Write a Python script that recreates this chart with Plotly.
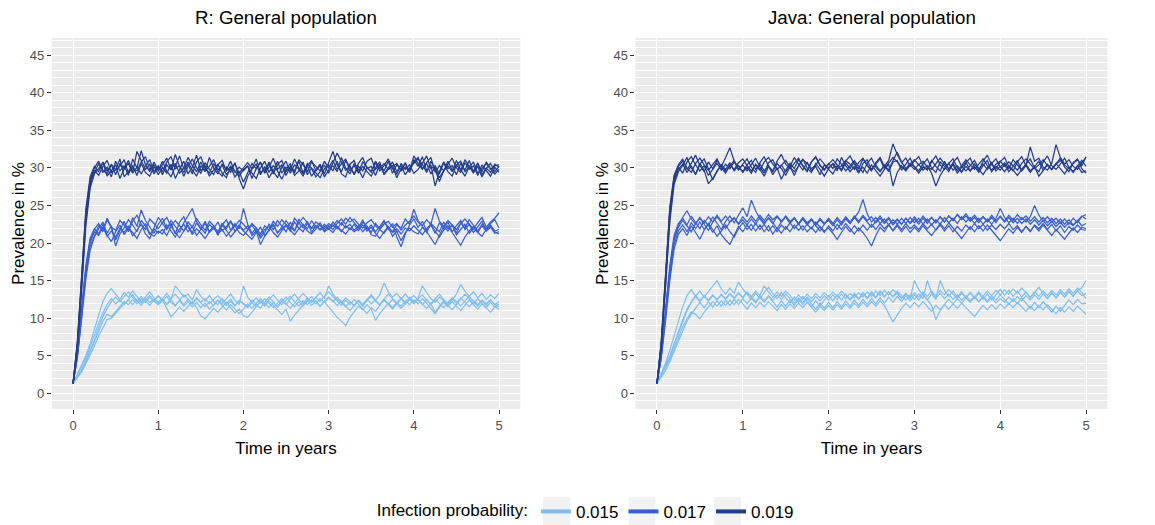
import plotly.graph_objects as go

# ---------------- data ----------------
time_years = [round(i * 0.05, 2) for i in range(101)]
probabilities = ["0.015", "0.017", "0.019"]
panel_titles = ["R: General population", "Java: General population"]
y_ticks = [0, 5, 10, 15, 20, 25, 30, 35, 40, 45]
x_ticks = [0, 1, 2, 3, 4, 5]

# ---- R panel, probability 0.019 ----
r_019_run1 = [1.3, 6.8, 15.5, 24.5, 28.8, 30.2, 29.5, 30.8, 29.6, 30.4, 29.1, 30.6, 29.9, 31.0, 29.4, 32.2, 31.0, 29.8, 30.5, 29.2, 30.1,
              29.5, 30.8, 31.5, 29.9, 30.3, 28.9, 30.2, 31.2, 30.0, 29.3, 30.7, 29.8, 29.1, 30.4, 31.0, 29.6, 30.2, 28.8, 29.5, 28.1,
              29.4, 30.6, 29.9, 30.8, 29.3, 30.1, 31.3, 29.8, 30.4, 29.0, 30.2, 29.6, 30.9, 29.4, 30.3, 28.9, 29.7, 30.5, 29.2, 30.6,
              32.2, 30.4, 29.5, 31.0, 30.1, 29.2, 30.6, 31.4, 29.9, 30.2, 29.0, 30.5, 29.6, 30.9, 29.3, 30.4, 29.8, 30.7, 29.4, 31.1,
              30.2, 31.5, 29.6, 30.4, 27.6, 29.5, 30.8, 29.9, 30.3, 29.1, 30.6, 29.7, 31.0, 29.4, 30.2, 28.8, 29.9, 30.6, 29.5, 30.2]
r_019_run2 = [1.3, 6.0, 14.2, 23.0, 27.6, 29.3, 30.6, 29.4, 30.1, 28.8, 30.9, 29.6, 30.3, 29.0, 31.2, 30.0, 32.3, 30.4, 29.5, 30.8, 29.7,
              30.9, 29.6, 28.8, 30.2, 31.6, 29.8, 30.5, 29.2, 30.8, 31.5, 30.0, 29.3, 30.6, 29.5, 28.9, 30.1, 29.4, 30.7, 28.6, 27.2,
              28.9, 29.8, 30.5, 29.1, 30.2, 28.7, 29.6, 30.9, 29.3, 30.1, 29.7, 31.2, 30.0, 29.2, 30.6, 29.9, 28.8, 29.5, 30.4, 29.3,
              30.6, 32.0, 30.8, 29.7, 30.3, 29.1, 30.2, 29.6, 30.9, 31.3, 29.8, 30.4, 29.2, 30.0, 30.8, 29.5, 30.3, 29.1, 30.0, 30.6,
              31.2, 30.5, 29.4, 30.9, 29.8, 28.2, 29.6, 30.5, 31.3, 30.0, 29.4, 30.7, 29.8, 30.3, 29.0, 30.4, 29.7, 28.9, 30.1, 29.4]
r_019_run3 = [1.3, 5.8, 13.5, 22.2, 27.3, 29.2, 29.9, 30.7, 28.9, 29.6, 30.4, 28.6, 29.9, 30.6, 29.3, 30.1, 29.2, 30.3, 31.1, 29.5, 30.3,
              29.1, 30.4, 29.7, 31.8, 30.2, 29.4, 30.8, 29.7, 28.9, 30.3, 29.5, 31.4, 30.0, 29.2, 30.5, 29.8, 30.9, 29.4, 30.1, 29.6,
              30.3, 28.6, 29.9, 30.7, 29.4, 30.8, 29.5, 28.7, 30.1, 30.9, 29.3, 30.4, 29.8, 28.9, 30.2, 31.0, 29.6, 30.3, 28.8, 29.7,
              30.3, 29.5, 31.4, 30.0, 29.2, 30.6, 29.8, 28.7, 30.1, 29.4, 30.7, 29.6, 30.3, 31.2, 29.9, 29.2, 30.6, 29.8, 30.4, 29.3,
              29.8, 30.6, 31.6, 29.9, 30.3, 29.2, 30.7, 29.5, 28.9, 30.4, 29.7, 31.1, 30.2, 29.3, 30.6, 29.5, 30.8, 29.9, 29.2, 29.8]
r_019_run4 = [1.3, 6.3, 14.8, 23.6, 28.0, 29.7, 29.0, 30.2, 31.0, 29.4, 29.8, 31.2, 28.8, 29.5, 30.3, 29.0, 30.6, 29.4, 28.9, 30.2, 29.1,
              30.1, 29.3, 30.5, 28.6, 29.8, 30.9, 29.2, 30.1, 31.7, 29.6, 30.3, 28.9, 29.7, 30.5, 29.3, 28.7, 30.2, 29.5, 28.9, 29.8,
              30.2, 29.3, 28.6, 30.0, 30.9, 29.4, 30.3, 29.6, 28.5, 29.7, 30.6, 29.0, 29.6, 30.8, 29.1, 30.0, 29.4, 28.7, 29.9, 30.4,
              29.6, 30.9, 29.2, 28.8, 30.5, 31.0, 29.3, 30.2, 29.5, 28.9, 30.0, 30.8, 29.1, 29.8, 30.3, 28.7, 29.9, 30.5, 29.6, 30.8,
              31.4, 29.9, 30.6, 29.2, 30.1, 28.7, 29.6, 30.3, 29.5, 31.0, 29.8, 28.9, 30.2, 29.6, 30.7, 29.1, 30.0, 29.4, 30.5, 30.1]
r_019_run5 = [1.3, 6.6, 15.2, 24.0, 28.4, 30.0, 30.9, 29.7, 29.2, 30.5, 29.7, 30.2, 31.1, 29.3, 30.0, 29.6, 30.8, 31.5, 29.8, 30.4, 29.6,
              30.4, 31.3, 29.8, 30.6, 29.3, 30.0, 31.4, 30.3, 29.5, 30.8, 29.6, 30.2, 31.1, 29.7, 30.4, 29.1, 29.8, 30.6, 29.3, 30.0,
              30.7, 29.9, 31.2, 29.4, 29.8, 30.5, 29.2, 30.4, 31.0, 29.5, 30.1, 29.3, 31.1, 30.4, 29.5, 30.8, 30.2, 29.6, 30.9, 30.0,
              31.0, 29.8, 30.5, 31.2, 29.6, 30.3, 29.4, 30.8, 30.1, 29.5, 30.9, 29.9, 30.6, 29.8, 30.2, 30.6, 29.6, 30.1, 29.5, 31.6,
              30.6, 29.8, 30.7, 31.4, 29.4, 30.3, 29.6, 30.9, 29.7, 30.4, 30.9, 29.5, 30.1, 30.8, 29.3, 30.0, 30.6, 29.8, 30.3, 30.4]

# ---- R panel, probability 0.017 ----
r_017_run1 = [1.3, 5.2, 10.8, 16.5, 20.3, 21.8, 22.6, 21.5, 23.1, 22.0, 20.4, 21.7, 22.9, 21.6, 23.4, 22.2, 24.4, 23.0, 22.1, 21.3, 22.5,
              23.3, 21.9, 22.6, 21.2, 22.8, 23.5, 22.1, 21.4, 22.7, 21.8, 22.9, 21.5, 22.3, 21.0, 22.4, 23.1, 21.7, 22.6, 21.9, 24.6,
              22.5, 21.3, 22.0, 20.6, 21.4, 22.5, 21.8, 23.0, 22.2, 21.5, 22.8, 21.6, 23.2, 22.4, 21.9, 23.0, 22.1, 22.7, 21.6, 22.3,
              21.8, 22.6, 23.2, 22.5, 23.4, 22.7, 22.0, 23.1, 21.8, 22.4, 21.5, 22.2, 23.0, 21.8, 22.6, 20.8, 19.5, 21.2, 22.4, 23.2,
              22.1, 22.9, 21.6, 22.4, 21.3, 22.7, 21.9, 22.8, 21.5, 22.3, 23.0, 21.8, 22.5, 21.4, 22.1, 22.9, 21.7, 22.4, 21.6, 21.8]
r_017_run2 = [1.3, 4.6, 9.8, 15.2, 19.0, 20.8, 21.9, 22.8, 21.3, 22.3, 19.6, 21.2, 22.0, 23.1, 22.4, 21.5, 23.0, 22.3, 21.1, 22.0, 23.4,
              22.6, 21.8, 23.0, 22.2, 21.4, 22.7, 23.6, 24.6, 22.9, 22.0, 21.3, 22.5, 21.9, 22.8, 21.6, 22.2, 23.0, 21.5, 22.4, 21.7,
              22.3, 21.0, 21.6, 19.8, 20.9, 21.7, 22.4, 21.3, 22.1, 23.0, 22.2, 21.6, 22.7, 22.0, 22.9, 21.4, 22.3, 21.8, 22.5, 21.9,
              22.8, 22.1, 21.5, 22.3, 21.8, 22.5, 21.6, 22.8, 22.2, 21.4, 22.6, 21.9, 22.9, 22.1, 21.5, 22.4, 22.0, 23.2, 22.5, 24.5,
              23.0, 22.2, 21.4, 22.6, 22.1, 21.5, 22.8, 21.9, 22.4, 21.3, 22.7, 22.0, 23.1, 22.3, 21.6, 22.5, 21.8, 22.6, 23.1, 22.0]
r_017_run3 = [1.3, 5.4, 11.2, 17.0, 20.6, 21.9, 21.2, 22.5, 21.0, 20.2, 21.5, 22.4, 21.1, 22.0, 21.4, 20.6, 21.8, 22.6, 21.3, 20.9, 21.6,
              21.2, 22.4, 21.6, 20.8, 21.9, 22.5, 21.5, 22.2, 21.0, 21.8, 22.6, 21.4, 22.0, 21.3, 22.4, 21.7, 20.8, 21.5, 22.3, 21.6,
              21.1, 20.5, 21.4, 22.1, 21.0, 21.8, 22.5, 21.4, 21.9, 22.4, 21.6, 22.8, 22.0, 21.5, 22.6, 21.9, 22.3, 21.7, 22.2, 21.8,
              22.4, 21.9, 22.7, 22.0, 22.5, 21.7, 22.3, 21.5, 22.2, 21.1, 20.9, 21.8, 21.3, 22.1, 20.9, 21.6, 20.3, 21.4, 22.0, 21.5,
              21.2, 22.1, 21.5, 20.7, 19.8, 21.0, 22.2, 21.6, 22.4, 21.1, 21.8, 22.5, 21.3, 22.0, 21.4, 22.3, 21.6, 22.1, 21.3, 21.5]
r_017_run4 = [1.3, 4.8, 10.2, 15.8, 19.5, 21.0, 22.3, 21.8, 23.3, 22.1, 21.7, 23.0, 22.4, 21.5, 22.9, 23.7, 22.5, 21.8, 23.2, 22.6, 21.9,
              22.7, 23.4, 22.2, 23.0, 22.3, 21.6, 22.8, 22.1, 23.3, 22.4, 21.7, 22.9, 22.3, 21.5, 22.6, 21.9, 22.8, 22.2, 23.0, 22.5,
              21.8, 22.6, 22.0, 21.2, 22.3, 21.7, 22.9, 22.2, 23.1, 22.5, 21.9, 23.3, 22.6, 23.4, 22.7, 22.0, 22.8, 22.3, 21.9, 22.6,
              22.2, 23.0, 22.4, 23.3, 22.8, 23.2, 22.5, 22.0, 22.7, 23.1, 22.3, 21.8, 22.5, 22.9, 22.1, 22.6, 21.7, 22.4, 22.9, 23.6,
              22.8, 22.3, 23.1, 22.5, 24.6, 22.9, 22.2, 23.0, 22.4, 21.8, 22.6, 23.2, 22.5, 21.9, 22.7, 23.4, 22.1, 22.8, 23.3, 24.0]
r_017_run5 = [1.3, 5.0, 10.5, 16.2, 20.0, 21.5, 21.0, 22.1, 20.9, 21.6, 20.8, 22.0, 21.4, 22.3, 20.9, 21.7, 22.5, 21.2, 20.6, 21.9, 21.3,
              21.8, 21.0, 22.2, 21.5, 20.7, 21.6, 22.4, 21.1, 21.9, 21.3, 20.6, 21.5, 22.1, 21.2, 21.8, 20.9, 21.6, 22.3, 21.4, 21.0,
              21.7, 22.4, 21.5, 20.9, 21.8, 22.2, 21.4, 20.8, 21.6, 22.3, 21.7, 21.1, 21.9, 22.5, 21.6, 21.2, 21.9, 22.4, 21.5, 21.9,
              21.4, 22.2, 21.7, 21.2, 22.0, 21.5, 21.9, 22.4, 21.6, 22.1, 21.3, 20.6, 21.5, 22.2, 21.4, 21.9, 21.2, 22.0, 21.6, 22.3,
              21.7, 21.1, 21.9, 22.5, 21.6, 20.8, 21.7, 22.3, 21.4, 20.6, 19.7, 20.8, 21.6, 22.2, 21.4, 20.9, 21.8, 22.3, 21.5, 21.2]

# ---- R panel, probability 0.015 ----
r_015_run1 = [1.3, 2.5, 3.6, 5.0, 6.6, 8.4, 10.4, 12.2, 13.3, 13.9, 13.2, 12.5, 13.4, 12.8, 13.6, 12.9, 12.2, 12.8, 13.5, 12.7, 12.1,
              12.6, 13.3, 12.5, 14.3, 13.6, 12.8, 13.2, 12.4, 13.8, 12.9, 12.3, 13.0, 12.2, 11.8, 12.6, 11.9, 12.5, 11.7, 12.3, 12.0,
              11.6, 12.4, 11.9, 11.3, 12.1, 12.8, 12.2, 11.5, 12.3, 11.8, 12.6, 13.2, 12.5, 11.9, 12.7, 12.1, 12.8, 13.4, 12.6, 14.3,
              13.2, 12.5, 12.0, 12.7, 12.2, 11.6, 12.3, 11.8, 12.5, 11.9, 12.4, 13.1, 14.7, 13.5, 12.8, 13.3, 12.6, 11.9, 12.5, 12.1,
              12.7, 14.3, 13.4, 12.6, 12.1, 12.8, 12.3, 11.7, 12.4, 13.2, 14.5, 13.6, 12.9, 13.5, 12.7, 13.3, 12.5, 13.1, 12.6, 13.3]
r_015_run2 = [1.3, 2.1, 3.0, 4.1, 5.4, 6.8, 8.2, 9.6, 10.5, 10.2, 10.9, 11.6, 12.2, 11.8, 12.5, 11.9, 12.6, 12.1, 12.8, 12.3, 12.9,
              12.4, 11.3, 10.2, 10.8, 11.5, 10.9, 11.6, 12.2, 11.4, 10.3, 9.9, 10.6, 11.3, 10.8, 11.5, 12.1, 11.4, 10.7, 11.2, 10.3,
              10.1, 10.8, 11.5, 12.2, 11.6, 12.3, 11.7, 11.1, 10.5, 11.2, 9.6, 10.4, 11.1, 11.8, 12.4, 11.7, 12.3, 11.6, 12.2, 11.5,
              10.8, 10.1, 9.6, 9.0, 10.1, 10.9, 11.6, 11.1, 11.8, 11.2, 9.7, 10.6, 11.3, 12.0, 11.4, 12.1, 11.6, 12.3, 11.8, 12.4,
              11.9, 12.6, 12.0, 11.3, 10.6, 11.4, 12.1, 11.5, 12.2, 11.6, 11.0, 11.7, 12.4, 11.8, 11.2, 11.9, 11.3, 10.8, 11.5, 11.2]
r_015_run3 = [1.3, 2.4, 3.4, 4.7, 6.2, 7.8, 9.3, 10.7, 11.8, 12.6, 11.9, 12.4, 11.8, 12.5, 13.1, 12.3, 11.7, 12.4, 13.0, 12.2, 11.8,
              12.3, 12.9, 12.1, 11.6, 12.4, 13.1, 12.5, 11.9, 12.6, 12.1, 11.5, 12.2, 11.7, 12.4, 11.9, 12.6, 13.2, 12.4, 11.8, 14.3,
              12.8, 12.1, 11.5, 12.3, 11.8, 12.5, 13.1, 12.4, 11.8, 12.4, 12.9, 12.2, 11.6, 12.3, 11.8, 12.4, 11.9, 12.6, 12.1, 12.7,
              12.2, 12.8, 12.1, 11.5, 12.2, 11.7, 12.3, 11.6, 12.4, 12.9, 12.3, 11.7, 12.5, 13.2, 12.6, 12.0, 12.7, 12.1, 12.8, 12.2,
              12.6, 13.1, 12.4, 11.8, 12.5, 12.0, 11.4, 12.1, 12.7, 12.2, 11.6, 12.3, 12.9, 12.3, 11.8, 12.4, 11.9, 12.5, 11.8, 11.5]
r_015_run4 = [1.3, 2.2, 3.1, 4.3, 5.6, 7.1, 8.7, 10.2, 11.3, 12.2, 12.8, 12.2, 12.9, 13.5, 12.8, 12.2, 12.9, 12.3, 11.7, 12.4, 13.0,
              12.5, 11.9, 12.6, 13.2, 12.5, 11.8, 12.5, 11.9, 12.7, 12.1, 12.6, 11.9, 12.5, 13.0, 12.3, 11.7, 12.2, 11.6, 12.3, 11.9,
              11.4, 12.1, 12.7, 12.0, 12.6, 12.0, 11.4, 12.0, 12.6, 11.9, 11.3, 12.0, 12.6, 13.3, 12.7, 12.1, 12.8, 12.2, 12.9, 13.5,
              12.9, 12.3, 11.7, 12.4, 11.8, 12.5, 11.9, 11.2, 10.6, 11.4, 10.9, 11.7, 12.4, 11.8, 12.5, 11.9, 11.3, 11.9, 12.5, 11.9,
              12.5, 11.9, 11.3, 11.9, 10.8, 11.6, 12.3, 11.7, 11.1, 11.8, 12.5, 13.2, 12.6, 11.9, 12.6, 12.0, 11.4, 12.1, 11.5, 11.9]
r_015_run5 = [1.3, 2.0, 2.8, 3.9, 5.0, 6.3, 7.6, 8.8, 9.8, 10.0, 10.7, 11.3, 11.9, 12.4, 11.8, 12.5, 12.0, 12.7, 12.1, 12.5, 11.9,
              12.5, 11.8, 12.4, 11.7, 12.3, 11.6, 12.2, 11.5, 12.1, 11.4, 12.0, 11.2, 11.8, 12.4, 11.7, 11.1, 11.8, 11.2, 10.6, 11.2,
              11.9, 11.3, 12.0, 12.6, 12.0, 11.4, 12.1, 11.5, 12.2, 12.8, 12.1, 11.5, 12.2, 11.6, 12.3, 12.9, 12.2, 11.6, 12.3, 12.8,
              12.3, 11.7, 12.3, 11.6, 11.0, 11.7, 12.4, 11.8, 12.5, 13.1, 12.4, 11.8, 12.5, 11.9, 11.2, 11.9, 12.6, 13.2, 12.5, 13.0,
              12.4, 11.8, 12.5, 11.9, 12.6, 13.2, 12.5, 11.9, 12.6, 12.0, 12.7, 12.1, 11.5, 12.2, 11.6, 12.3, 11.7, 12.4, 11.8, 12.2]

# ---- Java panel, probability 0.019 ----
j_019_run1 = [1.3, 6.9, 15.8, 24.8, 29.0, 30.4, 31.2, 29.8, 30.6, 31.7, 30.3, 29.5, 30.8, 29.9, 31.0, 30.2, 31.4, 32.7, 30.9, 29.8, 30.5,
              31.2, 30.1, 29.4, 30.7, 31.5, 30.2, 29.6, 30.9, 31.8, 30.5, 29.9, 30.6, 31.3, 30.2, 29.5, 30.8, 31.4, 30.3, 29.7, 30.5,
              31.1, 30.4, 29.8, 30.9, 31.6, 30.5, 29.9, 31.2, 30.3, 29.6, 30.7, 31.4, 30.2, 31.0, 33.2, 31.8, 30.7, 31.3, 30.2, 30.9,
              31.5, 30.3, 29.7, 30.8, 31.6, 30.4, 29.8, 30.6, 31.2, 30.0, 29.4, 30.7, 31.3, 30.1, 29.6, 30.9, 31.7, 30.4, 29.9, 30.8,
              31.4, 30.2, 29.6, 30.8, 31.5, 30.3, 32.8, 30.9, 31.3, 30.1, 29.7, 30.6, 33.1, 31.4, 30.5, 31.1, 30.2, 29.8, 30.7, 31.4]
j_019_run2 = [1.3, 6.2, 14.6, 23.5, 28.2, 29.8, 30.5, 29.4, 30.3, 29.1, 30.6, 29.7, 27.9, 28.6, 29.5, 30.4, 29.8, 30.7, 29.6, 30.3, 29.4,
              30.1, 29.3, 30.5, 29.8, 28.9, 30.2, 29.5, 30.6, 29.9, 29.0, 30.3, 31.4, 30.5, 29.7, 30.8, 29.6, 30.2, 29.1, 30.4, 29.8,
              29.2, 30.3, 29.6, 30.7, 29.9, 30.8, 29.5, 30.1, 29.3, 30.4, 29.7, 28.9, 29.8, 30.5, 27.6, 29.4, 30.3, 29.6, 30.4, 29.8,
              30.5, 29.7, 30.3, 29.3, 27.6, 29.0, 29.9, 30.6, 29.7, 30.3, 29.5, 30.2, 29.6, 30.5, 29.8, 29.1, 30.0, 30.7, 29.6, 30.2,
              29.5, 30.3, 29.7, 29.0, 29.8, 30.5, 29.6, 30.2, 28.9, 29.7, 30.4, 29.8, 30.6, 29.9, 29.2, 30.1, 29.5, 30.3, 29.4, 29.6]
j_019_run3 = [1.3, 6.5, 15.2, 24.2, 28.6, 30.1, 29.3, 30.8, 31.5, 30.4, 29.6, 30.3, 29.0, 29.8, 30.6, 29.7, 30.5, 29.9, 30.8, 30.2, 29.5,
              30.4, 31.0, 29.8, 30.5, 29.6, 30.3, 29.1, 30.0, 28.5, 29.7, 30.6, 29.9, 31.1, 30.3, 29.6, 30.8, 31.5, 30.4, 29.8, 30.6,
              29.9, 31.2, 30.5, 29.6, 30.3, 31.0, 30.2, 29.4, 30.6, 31.3, 30.1, 29.5, 30.4, 29.7, 31.0, 32.1, 30.8, 29.9, 30.6, 30.2,
              29.6, 30.5, 31.2, 30.0, 29.4, 30.8, 30.2, 29.5, 30.7, 31.4, 30.2, 29.6, 30.3, 31.0, 29.9, 30.5, 29.8, 30.6, 31.2, 30.1,
              30.7, 29.9, 31.1, 30.4, 29.7, 30.5, 31.2, 30.0, 29.5, 30.8, 31.6, 30.3, 29.8, 30.5, 31.3, 30.1, 29.4, 30.2, 31.0, 30.2]
j_019_run4 = [1.3, 6.0, 14.0, 22.8, 27.8, 29.5, 30.3, 31.4, 30.0, 29.2, 30.5, 31.2, 29.9, 28.4, 29.6, 30.4, 29.5, 30.3, 31.0, 29.7, 30.4,
              29.6, 30.5, 31.3, 30.1, 29.3, 30.7, 31.1, 29.8, 30.4, 29.5, 30.2, 29.0, 30.3, 31.2, 30.0, 29.4, 30.6, 29.8, 28.9, 29.9,
              30.5, 29.6, 31.4, 30.3, 29.5, 30.2, 29.3, 30.6, 31.1, 29.8, 30.4, 29.6, 30.3, 29.5, 30.8, 31.0, 29.7, 30.5, 31.3, 30.1,
              29.3, 30.1, 29.8, 31.0, 30.2, 29.6, 30.9, 29.8, 30.4, 29.3, 30.1, 30.8, 29.6, 30.2, 29.4, 30.3, 31.0, 29.5, 30.2, 29.7,
              30.4, 29.5, 30.2, 31.0, 29.6, 30.3, 29.4, 30.1, 30.9, 29.7, 30.5, 29.8, 30.6, 31.3, 30.1, 29.5, 30.7, 31.2, 29.9, 29.3]
j_019_run5 = [1.3, 6.6, 15.4, 24.5, 28.8, 30.2, 30.9, 30.0, 29.4, 30.6, 31.3, 30.4, 29.7, 30.5, 31.2, 30.0, 29.3, 30.4, 29.8, 30.7, 31.2,
              30.3, 29.6, 30.4, 29.7, 30.8, 31.4, 30.5, 29.8, 30.3, 31.0, 30.1, 29.5, 30.2, 31.1, 30.6, 29.9, 30.4, 31.2, 30.5, 30.0,
              30.6, 29.9, 30.3, 31.0, 30.5, 29.8, 30.7, 31.3, 30.4, 29.7, 30.5, 31.2, 29.9, 30.6, 31.4, 30.8, 30.1, 29.7, 30.5, 31.1,
              30.4, 30.9, 30.1, 29.8, 30.6, 31.3, 30.5, 29.9, 30.6, 29.6, 30.3, 31.1, 30.4, 29.8, 30.5, 31.2, 30.3, 29.7, 30.5, 30.9,
              30.2, 30.8, 30.3, 29.7, 30.6, 31.2, 30.5, 29.9, 30.4, 31.1, 30.3, 29.8, 30.5, 31.0, 30.4, 29.9, 30.6, 31.1, 30.3, 31.5]

# ---- Java panel, probability 0.017 ----
j_017_run1 = [1.3, 5.3, 11.0, 17.0, 21.0, 22.6, 23.3, 22.4, 23.6, 22.8, 21.9, 23.0, 22.3, 23.5, 22.6, 21.8, 22.9, 23.6, 22.7, 23.8, 24.7,
              23.5, 25.7, 24.3, 23.2, 22.5, 23.4, 22.7, 21.9, 22.8, 23.5, 22.6, 23.3, 22.5, 23.2, 22.4, 23.1, 22.3, 21.6, 22.5, 23.3,
              22.6, 21.8, 22.7, 23.4, 22.6, 23.3, 24.1, 25.8, 23.9, 22.8, 23.4, 22.6, 23.2, 22.4, 23.1, 22.5, 23.3, 22.6, 23.4, 22.7,
              23.3, 22.5, 23.2, 22.4, 23.1, 22.5, 23.4, 22.7, 23.3, 22.6, 23.5, 22.8, 23.4, 22.6, 23.3, 22.5, 23.2, 22.5, 23.3, 24.6,
              23.4, 22.7, 23.3, 22.6, 23.4, 22.8, 23.5, 25.0, 23.7, 22.9, 23.5, 22.8, 23.3, 22.6, 23.2, 22.5, 23.3, 22.7, 23.5, 23.8]
j_017_run2 = [1.3, 4.8, 10.2, 15.8, 19.8, 21.6, 22.4, 21.5, 22.7, 21.9, 22.8, 21.8, 22.5, 21.4, 22.3, 21.1, 20.4, 19.8, 21.0, 22.2, 21.5,
              22.4, 21.7, 22.6, 21.8, 22.5, 21.6, 22.3, 21.5, 22.4, 21.8, 22.7, 21.9, 22.6, 21.7, 22.5, 21.9, 22.8, 22.1, 21.4, 22.3,
              21.6, 22.5, 21.8, 22.6, 21.9, 21.2, 22.0, 21.4, 20.6, 19.6, 21.0, 22.1, 21.5, 22.4, 21.7, 22.5, 21.8, 22.6, 21.9, 22.4,
              21.8, 22.6, 21.9, 22.5, 21.7, 22.4, 21.6, 22.3, 21.5, 22.2, 21.6, 22.4, 21.8, 22.6, 21.9, 22.5, 21.7, 22.4, 21.8, 22.5,
              21.9, 22.6, 21.8, 22.3, 21.5, 22.2, 21.6, 22.4, 21.9, 22.6, 21.8, 22.5, 21.6, 22.3, 21.4, 22.2, 21.7, 22.4, 21.8, 21.7]
j_017_run3 = [1.3, 5.0, 10.6, 16.4, 20.4, 22.1, 23.0, 22.3, 21.5, 22.6, 23.4, 22.5, 21.7, 22.8, 23.5, 22.7, 21.9, 22.8, 23.3, 22.5, 23.1,
              22.4, 23.2, 22.5, 23.4, 22.7, 23.3, 22.6, 23.5, 22.8, 23.6, 22.9, 23.3, 22.6, 23.4, 22.7, 23.2, 22.5, 23.3, 22.6, 23.0,
              22.3, 23.1, 22.4, 23.2, 22.6, 23.4, 22.7, 23.5, 22.8, 22.1, 22.9, 23.6, 22.8, 23.4, 22.6, 23.2, 22.5, 23.3, 22.6, 23.2,
              22.5, 23.3, 22.6, 23.4, 22.7, 23.5, 22.8, 23.6, 23.0, 23.8, 23.1, 23.6, 22.9, 23.4, 22.7, 23.5, 22.9, 23.7, 23.0, 23.5,
              22.8, 23.4, 22.7, 23.3, 22.6, 23.2, 22.5, 23.1, 22.4, 23.0, 22.3, 22.9, 22.2, 22.8, 22.1, 22.7, 22.3, 22.9, 23.6, 23.2]
j_017_run4 = [1.3, 4.6, 9.6, 15.0, 19.2, 21.2, 21.9, 21.0, 22.3, 21.4, 20.5, 21.7, 22.6, 21.8, 20.9, 21.6, 22.4, 21.5, 20.8, 21.9, 22.7,
              21.8, 22.5, 21.6, 22.4, 21.5, 22.3, 21.2, 22.0, 21.3, 22.2, 21.5, 22.4, 21.7, 22.3, 21.5, 22.1, 21.4, 22.2, 21.6, 22.0,
              21.3, 20.5, 21.4, 22.2, 21.5, 22.3, 21.6, 22.4, 21.7, 22.5, 21.8, 22.6, 21.9, 22.5, 21.6, 22.3, 21.5, 22.2, 21.4, 22.1,
              21.5, 22.3, 21.6, 21.0, 21.8, 22.6, 21.9, 22.7, 22.0, 21.3, 20.6, 21.4, 22.2, 21.5, 22.3, 21.6, 22.4, 21.7, 21.0, 20.3,
              21.1, 21.9, 21.3, 22.1, 21.4, 22.2, 21.5, 22.3, 21.6, 22.4, 21.7, 21.0, 21.8, 21.2, 20.5, 21.3, 22.0, 21.4, 22.1, 21.9]
j_017_run5 = [1.3, 5.1, 10.8, 16.6, 20.6, 22.3, 23.4, 24.3, 23.2, 22.5, 23.3, 22.6, 23.5, 22.8, 23.7, 22.9, 23.6, 22.8, 23.4, 22.6, 23.5,
              22.8, 23.6, 22.9, 23.7, 23.0, 23.8, 23.1, 23.6, 22.9, 23.5, 22.7, 23.4, 22.6, 23.3, 22.5, 23.2, 22.4, 23.1, 22.5, 23.2,
              22.6, 23.4, 22.7, 23.5, 22.8, 23.6, 22.9, 23.7, 23.0, 23.5, 22.7, 23.3, 22.6, 23.2, 22.4, 23.1, 22.5, 23.3, 22.7, 23.5,
              22.8, 23.6, 22.9, 23.4, 22.7, 23.5, 22.8, 23.6, 23.0, 23.8, 23.2, 23.9, 23.1, 23.7, 23.0, 23.5, 22.8, 23.4, 22.7, 23.6,
              22.9, 23.7, 23.0, 23.8, 23.1, 23.6, 22.9, 23.5, 22.8, 23.4, 22.7, 23.3, 22.6, 23.2, 22.5, 23.1, 22.4, 23.0, 22.3, 22.6]

# ---- Java panel, probability 0.015 ----
j_015_run1 = [1.3, 2.7, 4.0, 5.7, 7.6, 9.6, 11.5, 13.0, 13.8, 12.9, 13.6, 12.8, 13.5, 14.2, 15.0, 13.9, 13.2, 14.0, 13.3, 14.8, 13.9,
              13.2, 12.5, 13.3, 12.6, 13.4, 14.1, 13.3, 12.6, 13.4, 12.7, 12.0, 12.8, 12.1, 12.9, 12.2, 11.5, 12.3, 11.6, 12.4, 13.0,
              12.3, 13.1, 12.4, 13.2, 12.5, 13.3, 12.6, 13.4, 12.7, 13.5, 12.8, 13.6, 12.9, 13.5, 12.8, 13.4, 12.7, 13.3, 12.6, 15.0,
              13.8, 13.1, 12.4, 13.2, 12.5, 15.0, 13.7, 12.9, 13.6, 12.8, 13.5, 12.7, 13.4, 12.6, 13.3, 12.5, 13.2, 12.4, 13.1, 13.8,
              13.0, 13.7, 12.9, 13.6, 12.8, 13.5, 12.7, 13.4, 14.1, 13.3, 12.6, 13.4, 12.7, 13.5, 12.8, 13.6, 12.9, 13.7, 14.0, 15.0]
j_015_run2 = [1.3, 2.3, 3.3, 4.5, 5.9, 7.4, 8.8, 9.9, 10.8, 10.5, 9.9, 10.8, 11.5, 12.2, 11.6, 12.3, 11.7, 12.4, 11.8, 12.5, 11.9,
              11.2, 12.0, 11.4, 12.1, 11.5, 12.2, 11.6, 11.0, 11.8, 11.2, 11.9, 11.3, 12.0, 11.4, 12.1, 11.5, 10.8, 11.6, 11.0, 11.7,
              11.1, 11.8, 11.2, 11.9, 11.3, 12.0, 11.4, 12.1, 11.5, 12.2, 11.6, 12.3, 11.7, 10.6, 9.5, 10.4, 11.3, 12.0, 11.4, 12.1,
              11.5, 12.2, 11.6, 10.9, 11.7, 11.1, 11.8, 11.2, 11.9, 11.3, 12.0, 11.4, 10.8, 10.2, 11.0, 11.7, 11.1, 11.8, 11.2, 11.9,
              11.3, 12.0, 11.4, 12.1, 11.5, 10.9, 11.6, 11.0, 11.7, 11.1, 11.8, 11.2, 10.6, 11.4, 10.8, 11.5, 10.9, 11.6, 11.0, 10.5]
j_015_run3 = [1.3, 2.5, 3.6, 5.0, 6.6, 8.3, 9.8, 11.2, 12.2, 13.0, 12.3, 13.0, 12.4, 13.1, 12.5, 13.2, 12.6, 13.3, 12.7, 13.4, 12.8,
              13.5, 12.9, 13.6, 13.0, 14.3, 13.5, 12.8, 13.5, 12.9, 13.6, 13.0, 12.4, 13.1, 12.5, 13.2, 12.6, 13.3, 12.7, 13.4, 12.8,
              13.5, 12.9, 13.6, 13.0, 12.4, 13.1, 12.5, 13.2, 12.6, 13.3, 12.7, 13.4, 12.8, 13.5, 12.9, 13.6, 13.0, 12.4, 13.1, 12.5,
              13.2, 12.6, 15.0, 13.4, 12.7, 13.3, 12.6, 13.2, 12.5, 13.1, 12.4, 13.0, 12.3, 12.9, 12.2, 12.8, 12.1, 12.7, 12.0, 12.6,
              12.1, 12.8, 12.2, 12.9, 12.3, 13.0, 12.4, 13.1, 12.5, 13.2, 12.6, 13.3, 12.7, 13.4, 12.8, 13.5, 12.9, 13.6, 13.0, 13.3]
j_015_run4 = [1.3, 2.1, 3.0, 4.2, 5.6, 7.0, 8.4, 9.6, 10.5, 11.3, 12.1, 11.4, 12.2, 11.5, 12.3, 11.6, 12.4, 11.7, 12.5, 11.8, 12.6,
              11.9, 12.7, 12.0, 12.8, 12.1, 12.9, 12.2, 11.5, 12.3, 11.6, 12.4, 11.7, 12.5, 11.8, 12.6, 11.9, 11.2, 12.0, 11.3, 12.1,
              11.4, 12.2, 11.5, 12.3, 11.6, 12.4, 11.7, 12.5, 11.8, 12.6, 11.9, 12.7, 12.0, 12.8, 12.1, 12.9, 12.2, 13.0, 12.3, 13.1,
              12.4, 13.2, 12.5, 11.7, 9.8, 11.0, 11.8, 12.5, 11.9, 12.6, 12.0, 12.7, 12.1, 12.8, 12.2, 12.9, 12.3, 13.0, 12.4, 13.1,
              12.5, 11.8, 12.6, 11.9, 12.7, 12.0, 11.3, 12.1, 11.4, 12.2, 11.5, 10.8, 11.6, 10.9, 11.7, 12.4, 11.8, 12.5, 11.9, 12.0]
j_015_run5 = [1.3, 2.4, 3.5, 4.8, 6.4, 8.0, 9.6, 11.0, 12.1, 12.9, 12.2, 12.9, 12.3, 13.0, 12.4, 13.1, 12.5, 13.2, 12.6, 13.3, 12.7,
              13.4, 12.8, 12.2, 12.9, 12.3, 13.0, 12.4, 13.1, 12.5, 13.2, 12.6, 12.0, 12.7, 12.1, 12.8, 12.2, 12.9, 12.3, 13.0, 12.4,
              13.1, 12.5, 13.2, 12.6, 13.3, 12.7, 13.4, 12.8, 13.5, 12.9, 13.6, 13.0, 13.7, 13.1, 13.8, 13.2, 12.6, 13.3, 12.7, 13.4,
              12.8, 13.5, 12.9, 13.6, 13.0, 13.7, 13.1, 13.8, 13.2, 12.6, 13.3, 12.7, 13.4, 12.8, 13.5, 12.9, 13.6, 13.0, 13.7, 13.1,
              13.8, 13.2, 13.9, 13.3, 14.0, 13.4, 12.8, 13.5, 12.9, 13.6, 13.0, 13.7, 13.1, 13.8, 13.2, 13.9, 13.3, 14.0, 13.4, 12.6]

r_runs = {
    "0.015": [r_015_run1, r_015_run2, r_015_run3, r_015_run4, r_015_run5],
    "0.017": [r_017_run1, r_017_run2, r_017_run3, r_017_run4, r_017_run5],
    "0.019": [r_019_run1, r_019_run2, r_019_run3, r_019_run4, r_019_run5],
}
java_runs = {
    "0.015": [j_015_run1, j_015_run2, j_015_run3, j_015_run4, j_015_run5],
    "0.017": [j_017_run1, j_017_run2, j_017_run3, j_017_run4, j_017_run5],
    "0.019": [j_019_run1, j_019_run2, j_019_run3, j_019_run4, j_019_run5],
}

# ---------------- styling ----------------
colors = {"0.015": "#7FBFEF", "0.017": "#3A5FCD", "0.019": "#233D8A"}
FONT = "Liberation Sans, Arial, sans-serif"

bad = []
for panel_name, runs in (("R", r_runs), ("Java", java_runs)):
    for p, lst in runs.items():
        for k, r in enumerate(lst):
            if len(r) != len(time_years):
                bad.append(f"{panel_name} {p} run{k+1}: {len(r)}")
if bad:
    raise SystemExit("length mismatch: " + "; ".join(bad))

fig = go.Figure()
for ax_idx, runs in ((1, r_runs), (2, java_runs)):
    xa = "x" if ax_idx == 1 else "x2"
    ya = "y" if ax_idx == 1 else "y2"
    for p in probabilities:
        for r in runs[p]:
            fig.add_trace(go.Scatter(
                x=time_years, y=r, mode="lines", xaxis=xa, yaxis=ya,
                line=dict(color=colors[p], width=1.25), showlegend=False,
                hoverinfo="skip"))

# legend entries
for p in probabilities:
    fig.add_trace(go.Scatter(x=[None], y=[None], mode="lines", name=p,
                             line=dict(color=colors[p], width=4),
                             xaxis="x", yaxis="y", showlegend=True))

xdoms = [[0.0448, 0.4505], [0.5502, 0.9589]]
ydom = [0.221, 0.9276]

axis_common = dict(
    showline=False, zeroline=False, automargin=False,
    ticks="outside", ticklen=4, tickwidth=1, tickcolor="#333333",
    tickfont=dict(family=FONT, size=13, color="#4D4D4D"),
    showgrid=True, gridcolor="white", gridwidth=1.2,
)
layout = dict(
    width=1155, height=525,
    margin=dict(l=0, r=0, t=0, b=0, autoexpand=False),
    paper_bgcolor="white", plot_bgcolor="#EBEBEB",
    font=dict(family=FONT, color="black"),
    showlegend=True,
    legend=dict(orientation="h", x=0.508, xanchor="center", y=0.025, yanchor="middle",
                title=dict(text="Infection probability:", side="left",
                           font=dict(size=17, color="black")),
                font=dict(size=17, color="black"), itemwidth=30,
                bgcolor="rgba(0,0,0,0)"),
)
for i, xd in enumerate(xdoms):
    suffix = "" if i == 0 else "2"
    layout["xaxis" + suffix] = dict(
        axis_common, domain=xd, range=[-0.25, 5.25], tickvals=x_ticks,
        anchor="y" + suffix,
        title=dict(text="Time in years", font=dict(size=17, color="black"), standoff=10))
    layout["yaxis" + suffix] = dict(
        axis_common, domain=ydom, range=[-2.1, 47.3], tickvals=y_ticks,
        anchor="x" + suffix,
        minor=dict(dtick=1, tick0=0, showgrid=True, gridcolor="white", gridwidth=0.8, ticks=""),
        title=dict(text="Prevalence in %", font=dict(size=17, color="black"), standoff=0))

fig.update_layout(**layout)

# light grey key backgrounds of the legend (ggplot style)
for cx in (556.5, 642.0, 727.5):
    fig.add_shape(type="rect", xref="paper", yref="paper", layer="below",
                  x0=(cx - 13.5) / 1155, x1=(cx + 13.5) / 1155, y0=0.0, y1=0.053,
                  fillcolor="#F2F2F2", line=dict(width=0))

for i, t in enumerate(panel_titles):
    fig.add_annotation(text=t, xref="paper", yref="paper",
                       x=(xdoms[i][0] + xdoms[i][1]) / 2, y=0.966,
                       xanchor="center", yanchor="middle", showarrow=False,
                       font=dict(family=FONT, size=18.7, color="black"))

fig.write_html("out.html")
